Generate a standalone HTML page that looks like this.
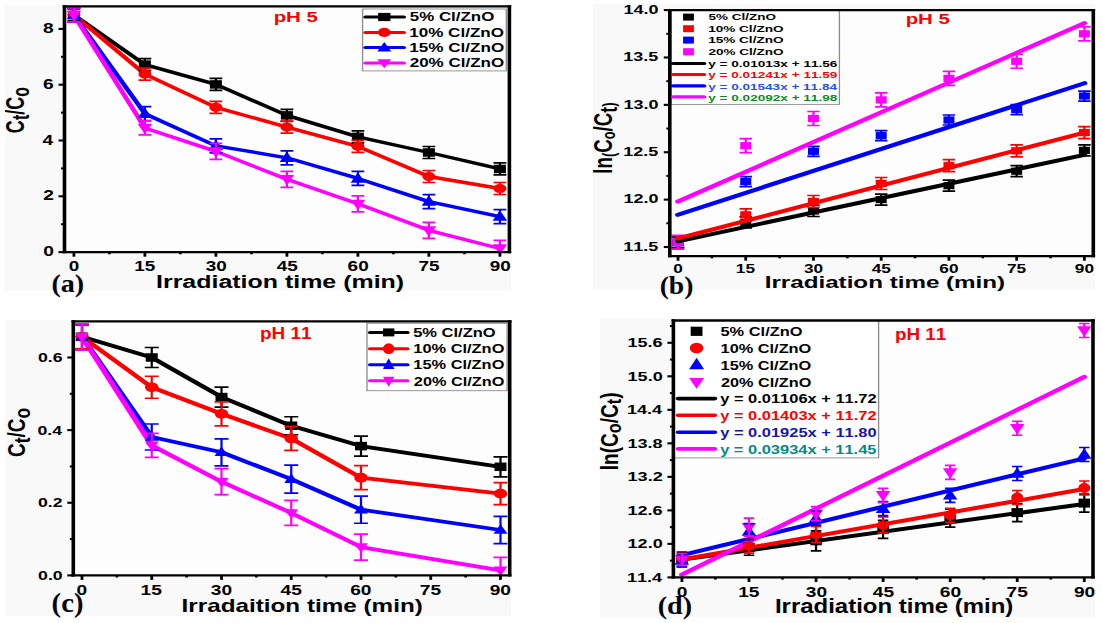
<!DOCTYPE html>
<html><head><meta charset="utf-8"><style>
html,body{margin:0;padding:0;background:#fff;}
svg{display:block;}
text{font-family:"Liberation Sans", sans-serif;font-kerning:none;}
</style></head><body>
<svg width="1102" height="623" viewBox="0 0 1102 623">
<rect x="0" y="0" width="1102" height="623" fill="#ffffff"/>
<rect x="4.5" y="4.8" width="506.5" height="286" fill="#f9f9f9"/>
<rect x="593" y="4" width="502" height="285" fill="#f9f9f9"/>
<rect x="5" y="320" width="506" height="296" fill="#f9f9f9"/>
<rect x="600" y="318" width="495" height="299" fill="#f9f9f9"/>
<rect x="64.5" y="6.4" width="444.9" height="245.7" fill="#fdfdfd"/><rect x="669.8" y="10.1" width="423.5" height="246" fill="#fdfdfd"/><rect x="73.3" y="321.4" width="436.4" height="253.9" fill="#fdfdfd"/><rect x="673.4" y="320.5" width="419.6" height="256.9" fill="#fdfdfd"/>
<g transform="scale(1.45,1)">
<rect x="250.07" y="9" width="99.1" height="61.9" fill="#ffffff" stroke="#8c8c8c" stroke-width="0.9"/>
<clipPath id="c1"><rect x="44.48" y="6.4" width="306.83" height="245.7"/></clipPath><g clip-path="url(#c1)">
<polyline points="50.97,14.95 99.93,64.61 148.9,84.42 197.86,115.39 246.83,136.87 295.79,152.5 344.76,168.96" fill="none" stroke="#000000" stroke-width="3.4" stroke-linejoin="round" stroke-linecap="round"/>
<polyline points="50.97,14.95 99.93,74.1 148.9,107.3 197.86,127.11 246.83,146.36 295.79,176.49 344.76,188.49" fill="none" stroke="#ff0000" stroke-width="3.4" stroke-linejoin="round" stroke-linecap="round"/>
<polyline points="50.97,14.95 99.93,113.72 148.9,145.8 197.86,157.8 246.83,178.44 295.79,201.6 344.76,216.67" fill="none" stroke="#0000ff" stroke-width="3.4" stroke-linejoin="round" stroke-linecap="round"/>
<polyline points="50.97,14.95 99.93,127.94 148.9,151.38 197.86,179.28 246.83,203.83 295.79,230.34 344.76,248.47" fill="none" stroke="#ff00ff" stroke-width="3.4" stroke-linejoin="round" stroke-linecap="round"/>
<line x1="50.97" y1="8.95" x2="50.97" y2="20.95" stroke="#000000" stroke-width="1.52"/>
<line x1="46.55" y1="8.95" x2="55.38" y2="8.95" stroke="#000000" stroke-width="1.7" stroke-linecap="butt"/>
<line x1="46.55" y1="20.95" x2="55.38" y2="20.95" stroke="#000000" stroke-width="1.7" stroke-linecap="butt"/>
<rect x="46.83" y="10.7" width="8.28" height="8.5" fill="#000000"/>
<line x1="99.93" y1="58.61" x2="99.93" y2="70.61" stroke="#000000" stroke-width="1.52"/>
<line x1="95.52" y1="58.61" x2="104.34" y2="58.61" stroke="#000000" stroke-width="1.7" stroke-linecap="butt"/>
<line x1="95.52" y1="70.61" x2="104.34" y2="70.61" stroke="#000000" stroke-width="1.7" stroke-linecap="butt"/>
<rect x="95.79" y="60.36" width="8.28" height="8.5" fill="#000000"/>
<line x1="148.9" y1="78.42" x2="148.9" y2="90.42" stroke="#000000" stroke-width="1.52"/>
<line x1="144.48" y1="78.42" x2="153.31" y2="78.42" stroke="#000000" stroke-width="1.7" stroke-linecap="butt"/>
<line x1="144.48" y1="90.42" x2="153.31" y2="90.42" stroke="#000000" stroke-width="1.7" stroke-linecap="butt"/>
<rect x="144.76" y="80.17" width="8.28" height="8.5" fill="#000000"/>
<line x1="197.86" y1="109.39" x2="197.86" y2="121.39" stroke="#000000" stroke-width="1.52"/>
<line x1="193.45" y1="109.39" x2="202.28" y2="109.39" stroke="#000000" stroke-width="1.7" stroke-linecap="butt"/>
<line x1="193.45" y1="121.39" x2="202.28" y2="121.39" stroke="#000000" stroke-width="1.7" stroke-linecap="butt"/>
<rect x="193.72" y="111.14" width="8.28" height="8.5" fill="#000000"/>
<line x1="246.83" y1="130.87" x2="246.83" y2="142.87" stroke="#000000" stroke-width="1.52"/>
<line x1="242.41" y1="130.87" x2="251.24" y2="130.87" stroke="#000000" stroke-width="1.7" stroke-linecap="butt"/>
<line x1="242.41" y1="142.87" x2="251.24" y2="142.87" stroke="#000000" stroke-width="1.7" stroke-linecap="butt"/>
<rect x="242.69" y="132.62" width="8.28" height="8.5" fill="#000000"/>
<line x1="295.79" y1="146.5" x2="295.79" y2="158.5" stroke="#000000" stroke-width="1.52"/>
<line x1="291.38" y1="146.5" x2="300.21" y2="146.5" stroke="#000000" stroke-width="1.7" stroke-linecap="butt"/>
<line x1="291.38" y1="158.5" x2="300.21" y2="158.5" stroke="#000000" stroke-width="1.7" stroke-linecap="butt"/>
<rect x="291.66" y="148.25" width="8.28" height="8.5" fill="#000000"/>
<line x1="344.76" y1="162.96" x2="344.76" y2="174.96" stroke="#000000" stroke-width="1.52"/>
<line x1="340.34" y1="162.96" x2="349.17" y2="162.96" stroke="#000000" stroke-width="1.7" stroke-linecap="butt"/>
<line x1="340.34" y1="174.96" x2="349.17" y2="174.96" stroke="#000000" stroke-width="1.7" stroke-linecap="butt"/>
<rect x="340.62" y="164.71" width="8.28" height="8.5" fill="#000000"/>
<line x1="50.97" y1="7.95" x2="50.97" y2="21.95" stroke="#ff0000" stroke-width="1.52"/>
<line x1="46.55" y1="7.95" x2="55.38" y2="7.95" stroke="#ff0000" stroke-width="1.7" stroke-linecap="butt"/>
<line x1="46.55" y1="21.95" x2="55.38" y2="21.95" stroke="#ff0000" stroke-width="1.7" stroke-linecap="butt"/>
<ellipse cx="50.97" cy="14.95" rx="4.48" ry="4.6" fill="#ff0000"/>
<line x1="99.93" y1="68.1" x2="99.93" y2="80.1" stroke="#ff0000" stroke-width="1.52"/>
<line x1="95.52" y1="68.1" x2="104.34" y2="68.1" stroke="#ff0000" stroke-width="1.7" stroke-linecap="butt"/>
<line x1="95.52" y1="80.1" x2="104.34" y2="80.1" stroke="#ff0000" stroke-width="1.7" stroke-linecap="butt"/>
<ellipse cx="99.93" cy="74.1" rx="4.48" ry="4.6" fill="#ff0000"/>
<line x1="148.9" y1="101.3" x2="148.9" y2="113.3" stroke="#ff0000" stroke-width="1.52"/>
<line x1="144.48" y1="101.3" x2="153.31" y2="101.3" stroke="#ff0000" stroke-width="1.7" stroke-linecap="butt"/>
<line x1="144.48" y1="113.3" x2="153.31" y2="113.3" stroke="#ff0000" stroke-width="1.7" stroke-linecap="butt"/>
<ellipse cx="148.9" cy="107.3" rx="4.48" ry="4.6" fill="#ff0000"/>
<line x1="197.86" y1="121.11" x2="197.86" y2="133.11" stroke="#ff0000" stroke-width="1.52"/>
<line x1="193.45" y1="121.11" x2="202.28" y2="121.11" stroke="#ff0000" stroke-width="1.7" stroke-linecap="butt"/>
<line x1="193.45" y1="133.11" x2="202.28" y2="133.11" stroke="#ff0000" stroke-width="1.7" stroke-linecap="butt"/>
<ellipse cx="197.86" cy="127.11" rx="4.48" ry="4.6" fill="#ff0000"/>
<line x1="246.83" y1="140.36" x2="246.83" y2="152.36" stroke="#ff0000" stroke-width="1.52"/>
<line x1="242.41" y1="140.36" x2="251.24" y2="140.36" stroke="#ff0000" stroke-width="1.7" stroke-linecap="butt"/>
<line x1="242.41" y1="152.36" x2="251.24" y2="152.36" stroke="#ff0000" stroke-width="1.7" stroke-linecap="butt"/>
<ellipse cx="246.83" cy="146.36" rx="4.48" ry="4.6" fill="#ff0000"/>
<line x1="295.79" y1="170.49" x2="295.79" y2="182.49" stroke="#ff0000" stroke-width="1.52"/>
<line x1="291.38" y1="170.49" x2="300.21" y2="170.49" stroke="#ff0000" stroke-width="1.7" stroke-linecap="butt"/>
<line x1="291.38" y1="182.49" x2="300.21" y2="182.49" stroke="#ff0000" stroke-width="1.7" stroke-linecap="butt"/>
<ellipse cx="295.79" cy="176.49" rx="4.48" ry="4.6" fill="#ff0000"/>
<line x1="344.76" y1="182.49" x2="344.76" y2="194.49" stroke="#ff0000" stroke-width="1.52"/>
<line x1="340.34" y1="182.49" x2="349.17" y2="182.49" stroke="#ff0000" stroke-width="1.7" stroke-linecap="butt"/>
<line x1="340.34" y1="194.49" x2="349.17" y2="194.49" stroke="#ff0000" stroke-width="1.7" stroke-linecap="butt"/>
<ellipse cx="344.76" cy="188.49" rx="4.48" ry="4.6" fill="#ff0000"/>
<line x1="50.97" y1="7.95" x2="50.97" y2="21.95" stroke="#0000ff" stroke-width="1.52"/>
<line x1="46.55" y1="7.95" x2="55.38" y2="7.95" stroke="#0000ff" stroke-width="1.7" stroke-linecap="butt"/>
<line x1="46.55" y1="21.95" x2="55.38" y2="21.95" stroke="#0000ff" stroke-width="1.7" stroke-linecap="butt"/>
<polygon points="50.97,8.65 55.97,19.15 45.97,19.15" fill="#0000ff"/>
<line x1="99.93" y1="106.72" x2="99.93" y2="120.72" stroke="#0000ff" stroke-width="1.52"/>
<line x1="95.52" y1="106.72" x2="104.34" y2="106.72" stroke="#0000ff" stroke-width="1.7" stroke-linecap="butt"/>
<line x1="95.52" y1="120.72" x2="104.34" y2="120.72" stroke="#0000ff" stroke-width="1.7" stroke-linecap="butt"/>
<polygon points="99.93,107.42 104.93,117.92 94.93,117.92" fill="#0000ff"/>
<line x1="148.9" y1="138.8" x2="148.9" y2="152.8" stroke="#0000ff" stroke-width="1.52"/>
<line x1="144.48" y1="138.8" x2="153.31" y2="138.8" stroke="#0000ff" stroke-width="1.7" stroke-linecap="butt"/>
<line x1="144.48" y1="152.8" x2="153.31" y2="152.8" stroke="#0000ff" stroke-width="1.7" stroke-linecap="butt"/>
<polygon points="148.9,139.5 153.9,150 143.9,150" fill="#0000ff"/>
<line x1="197.86" y1="150.8" x2="197.86" y2="164.8" stroke="#0000ff" stroke-width="1.52"/>
<line x1="193.45" y1="150.8" x2="202.28" y2="150.8" stroke="#0000ff" stroke-width="1.7" stroke-linecap="butt"/>
<line x1="193.45" y1="164.8" x2="202.28" y2="164.8" stroke="#0000ff" stroke-width="1.7" stroke-linecap="butt"/>
<polygon points="197.86,151.5 202.86,162 192.86,162" fill="#0000ff"/>
<line x1="246.83" y1="171.44" x2="246.83" y2="185.44" stroke="#0000ff" stroke-width="1.52"/>
<line x1="242.41" y1="171.44" x2="251.24" y2="171.44" stroke="#0000ff" stroke-width="1.7" stroke-linecap="butt"/>
<line x1="242.41" y1="185.44" x2="251.24" y2="185.44" stroke="#0000ff" stroke-width="1.7" stroke-linecap="butt"/>
<polygon points="246.83,172.14 251.83,182.64 241.83,182.64" fill="#0000ff"/>
<line x1="295.79" y1="194.6" x2="295.79" y2="208.6" stroke="#0000ff" stroke-width="1.52"/>
<line x1="291.38" y1="194.6" x2="300.21" y2="194.6" stroke="#0000ff" stroke-width="1.7" stroke-linecap="butt"/>
<line x1="291.38" y1="208.6" x2="300.21" y2="208.6" stroke="#0000ff" stroke-width="1.7" stroke-linecap="butt"/>
<polygon points="295.79,195.3 300.79,205.8 290.79,205.8" fill="#0000ff"/>
<line x1="344.76" y1="209.67" x2="344.76" y2="223.67" stroke="#0000ff" stroke-width="1.52"/>
<line x1="340.34" y1="209.67" x2="349.17" y2="209.67" stroke="#0000ff" stroke-width="1.7" stroke-linecap="butt"/>
<line x1="340.34" y1="223.67" x2="349.17" y2="223.67" stroke="#0000ff" stroke-width="1.7" stroke-linecap="butt"/>
<polygon points="344.76,210.37 349.76,220.87 339.76,220.87" fill="#0000ff"/>
<line x1="50.97" y1="7.95" x2="50.97" y2="21.95" stroke="#ff00ff" stroke-width="1.52"/>
<line x1="46.55" y1="7.95" x2="55.38" y2="7.95" stroke="#ff00ff" stroke-width="1.7" stroke-linecap="butt"/>
<line x1="46.55" y1="21.95" x2="55.38" y2="21.95" stroke="#ff00ff" stroke-width="1.7" stroke-linecap="butt"/>
<polygon points="50.97,21.25 55.97,10.75 45.97,10.75" fill="#ff00ff"/>
<line x1="99.93" y1="120.94" x2="99.93" y2="134.94" stroke="#ff00ff" stroke-width="1.52"/>
<line x1="95.52" y1="120.94" x2="104.34" y2="120.94" stroke="#ff00ff" stroke-width="1.7" stroke-linecap="butt"/>
<line x1="95.52" y1="134.94" x2="104.34" y2="134.94" stroke="#ff00ff" stroke-width="1.7" stroke-linecap="butt"/>
<polygon points="99.93,134.25 104.93,123.74 94.93,123.74" fill="#ff00ff"/>
<line x1="148.9" y1="143.38" x2="148.9" y2="159.38" stroke="#ff00ff" stroke-width="1.52"/>
<line x1="144.48" y1="143.38" x2="153.31" y2="143.38" stroke="#ff00ff" stroke-width="1.7" stroke-linecap="butt"/>
<line x1="144.48" y1="159.38" x2="153.31" y2="159.38" stroke="#ff00ff" stroke-width="1.7" stroke-linecap="butt"/>
<polygon points="148.9,157.68 153.9,147.18 143.9,147.18" fill="#ff00ff"/>
<line x1="197.86" y1="171.28" x2="197.86" y2="187.28" stroke="#ff00ff" stroke-width="1.52"/>
<line x1="193.45" y1="171.28" x2="202.28" y2="171.28" stroke="#ff00ff" stroke-width="1.7" stroke-linecap="butt"/>
<line x1="193.45" y1="187.28" x2="202.28" y2="187.28" stroke="#ff00ff" stroke-width="1.7" stroke-linecap="butt"/>
<polygon points="197.86,185.58 202.86,175.08 192.86,175.08" fill="#ff00ff"/>
<line x1="246.83" y1="195.83" x2="246.83" y2="211.83" stroke="#ff00ff" stroke-width="1.52"/>
<line x1="242.41" y1="195.83" x2="251.24" y2="195.83" stroke="#ff00ff" stroke-width="1.7" stroke-linecap="butt"/>
<line x1="242.41" y1="211.83" x2="251.24" y2="211.83" stroke="#ff00ff" stroke-width="1.7" stroke-linecap="butt"/>
<polygon points="246.83,210.13 251.83,199.63 241.83,199.63" fill="#ff00ff"/>
<line x1="295.79" y1="222.34" x2="295.79" y2="238.34" stroke="#ff00ff" stroke-width="1.52"/>
<line x1="291.38" y1="222.34" x2="300.21" y2="222.34" stroke="#ff00ff" stroke-width="1.7" stroke-linecap="butt"/>
<line x1="291.38" y1="238.34" x2="300.21" y2="238.34" stroke="#ff00ff" stroke-width="1.7" stroke-linecap="butt"/>
<polygon points="295.79,236.64 300.79,226.14 290.79,226.14" fill="#ff00ff"/>
<line x1="344.76" y1="240.47" x2="344.76" y2="256.47" stroke="#ff00ff" stroke-width="1.52"/>
<line x1="340.34" y1="240.47" x2="349.17" y2="240.47" stroke="#ff00ff" stroke-width="1.7" stroke-linecap="butt"/>
<line x1="340.34" y1="256.47" x2="349.17" y2="256.47" stroke="#ff00ff" stroke-width="1.7" stroke-linecap="butt"/>
<polygon points="344.76,254.77 349.76,244.27 339.76,244.27" fill="#ff00ff"/>
</g>
<line x1="43.24" y1="6.4" x2="352.55" y2="6.4" stroke="#000" stroke-width="2.3" stroke-linecap="butt"/>
<line x1="43.24" y1="252.1" x2="352.55" y2="252.1" stroke="#000" stroke-width="2.3" stroke-linecap="butt"/>
<line x1="44.48" y1="5.25" x2="44.48" y2="253.25" stroke="#000" stroke-width="2.48"/>
<line x1="351.31" y1="5.25" x2="351.31" y2="253.25" stroke="#000" stroke-width="2.48"/>
<line x1="40.34" y1="252.1" x2="44.48" y2="252.1" stroke="#000" stroke-width="2.1" stroke-linecap="butt"/>
<line x1="40.34" y1="196.3" x2="44.48" y2="196.3" stroke="#000" stroke-width="2.1" stroke-linecap="butt"/>
<line x1="40.34" y1="140.5" x2="44.48" y2="140.5" stroke="#000" stroke-width="2.1" stroke-linecap="butt"/>
<line x1="40.34" y1="84.7" x2="44.48" y2="84.7" stroke="#000" stroke-width="2.1" stroke-linecap="butt"/>
<line x1="40.34" y1="28.9" x2="44.48" y2="28.9" stroke="#000" stroke-width="2.1" stroke-linecap="butt"/>
<line x1="42.07" y1="224.2" x2="44.48" y2="224.2" stroke="#000" stroke-width="2" stroke-linecap="butt"/>
<line x1="42.07" y1="168.4" x2="44.48" y2="168.4" stroke="#000" stroke-width="2" stroke-linecap="butt"/>
<line x1="42.07" y1="112.6" x2="44.48" y2="112.6" stroke="#000" stroke-width="2" stroke-linecap="butt"/>
<line x1="42.07" y1="56.8" x2="44.48" y2="56.8" stroke="#000" stroke-width="2" stroke-linecap="butt"/>
<line x1="50.97" y1="252.1" x2="50.97" y2="256.7" stroke="#000" stroke-width="1.93"/>
<line x1="99.93" y1="252.1" x2="99.93" y2="256.7" stroke="#000" stroke-width="1.93"/>
<line x1="148.9" y1="252.1" x2="148.9" y2="256.7" stroke="#000" stroke-width="1.93"/>
<line x1="197.86" y1="252.1" x2="197.86" y2="256.7" stroke="#000" stroke-width="1.93"/>
<line x1="246.83" y1="252.1" x2="246.83" y2="256.7" stroke="#000" stroke-width="1.93"/>
<line x1="295.79" y1="252.1" x2="295.79" y2="256.7" stroke="#000" stroke-width="1.93"/>
<line x1="344.76" y1="252.1" x2="344.76" y2="256.7" stroke="#000" stroke-width="1.93"/>
<line x1="75.45" y1="252.1" x2="75.45" y2="254.3" stroke="#000" stroke-width="1.79"/>
<line x1="124.41" y1="252.1" x2="124.41" y2="254.3" stroke="#000" stroke-width="1.79"/>
<line x1="173.38" y1="252.1" x2="173.38" y2="254.3" stroke="#000" stroke-width="1.79"/>
<line x1="222.34" y1="252.1" x2="222.34" y2="254.3" stroke="#000" stroke-width="1.79"/>
<line x1="271.31" y1="252.1" x2="271.31" y2="254.3" stroke="#000" stroke-width="1.79"/>
<line x1="320.28" y1="252.1" x2="320.28" y2="254.3" stroke="#000" stroke-width="1.79"/>
<rect x="462.69" y="10.1" width="116.21" height="94.3" fill="#ffffff" stroke="#8c8c8c" stroke-width="0.9"/>
<clipPath id="c146"><rect x="461.93" y="10.1" width="292.07" height="246"/></clipPath><g clip-path="url(#c146)">
<line x1="467.59" y1="236.76" x2="467.59" y2="247.76" stroke="#000000" stroke-width="1.52"/>
<line x1="463.28" y1="236.76" x2="471.9" y2="236.76" stroke="#000000" stroke-width="1.7" stroke-linecap="butt"/>
<line x1="463.28" y1="247.76" x2="471.9" y2="247.76" stroke="#000000" stroke-width="1.7" stroke-linecap="butt"/>
<rect x="463.79" y="238.66" width="7.59" height="7.2" fill="#000000"/>
<line x1="514.3" y1="216.86" x2="514.3" y2="227.86" stroke="#000000" stroke-width="1.52"/>
<line x1="509.99" y1="216.86" x2="518.61" y2="216.86" stroke="#000000" stroke-width="1.7" stroke-linecap="butt"/>
<line x1="509.99" y1="227.86" x2="518.61" y2="227.86" stroke="#000000" stroke-width="1.7" stroke-linecap="butt"/>
<rect x="510.51" y="218.76" width="7.59" height="7.2" fill="#000000"/>
<line x1="561.01" y1="205.49" x2="561.01" y2="216.49" stroke="#000000" stroke-width="1.52"/>
<line x1="556.7" y1="205.49" x2="565.32" y2="205.49" stroke="#000000" stroke-width="1.7" stroke-linecap="butt"/>
<line x1="556.7" y1="216.49" x2="565.32" y2="216.49" stroke="#000000" stroke-width="1.7" stroke-linecap="butt"/>
<rect x="557.22" y="207.39" width="7.59" height="7.2" fill="#000000"/>
<line x1="607.72" y1="194.12" x2="607.72" y2="205.12" stroke="#000000" stroke-width="1.52"/>
<line x1="603.41" y1="194.12" x2="612.03" y2="194.12" stroke="#000000" stroke-width="1.7" stroke-linecap="butt"/>
<line x1="603.41" y1="205.12" x2="612.03" y2="205.12" stroke="#000000" stroke-width="1.7" stroke-linecap="butt"/>
<rect x="603.93" y="196.02" width="7.59" height="7.2" fill="#000000"/>
<line x1="654.44" y1="180.19" x2="654.44" y2="191.19" stroke="#000000" stroke-width="1.52"/>
<line x1="650.13" y1="180.19" x2="658.75" y2="180.19" stroke="#000000" stroke-width="1.7" stroke-linecap="butt"/>
<line x1="650.13" y1="191.19" x2="658.75" y2="191.19" stroke="#000000" stroke-width="1.7" stroke-linecap="butt"/>
<rect x="650.64" y="182.09" width="7.59" height="7.2" fill="#000000"/>
<line x1="701.15" y1="165.69" x2="701.15" y2="176.69" stroke="#000000" stroke-width="1.52"/>
<line x1="696.84" y1="165.69" x2="705.46" y2="165.69" stroke="#000000" stroke-width="1.7" stroke-linecap="butt"/>
<line x1="696.84" y1="176.69" x2="705.46" y2="176.69" stroke="#000000" stroke-width="1.7" stroke-linecap="butt"/>
<rect x="697.36" y="167.59" width="7.59" height="7.2" fill="#000000"/>
<line x1="747.86" y1="144.84" x2="747.86" y2="155.84" stroke="#000000" stroke-width="1.52"/>
<line x1="743.55" y1="144.84" x2="752.17" y2="144.84" stroke="#000000" stroke-width="1.7" stroke-linecap="butt"/>
<line x1="743.55" y1="155.84" x2="752.17" y2="155.84" stroke="#000000" stroke-width="1.7" stroke-linecap="butt"/>
<rect x="744.07" y="146.74" width="7.59" height="7.2" fill="#000000"/>
<line x1="467.59" y1="236.26" x2="467.59" y2="248.26" stroke="#ff0000" stroke-width="1.52"/>
<line x1="463.28" y1="236.26" x2="471.9" y2="236.26" stroke="#ff0000" stroke-width="1.7" stroke-linecap="butt"/>
<line x1="463.28" y1="248.26" x2="471.9" y2="248.26" stroke="#ff0000" stroke-width="1.7" stroke-linecap="butt"/>
<rect x="463.79" y="238.66" width="7.59" height="7.2" fill="#ff0000"/>
<line x1="514.3" y1="208.78" x2="514.3" y2="220.78" stroke="#ff0000" stroke-width="1.52"/>
<line x1="509.99" y1="208.78" x2="518.61" y2="208.78" stroke="#ff0000" stroke-width="1.7" stroke-linecap="butt"/>
<line x1="509.99" y1="220.78" x2="518.61" y2="220.78" stroke="#ff0000" stroke-width="1.7" stroke-linecap="butt"/>
<rect x="510.51" y="211.18" width="7.59" height="7.2" fill="#ff0000"/>
<line x1="561.01" y1="195.52" x2="561.01" y2="207.52" stroke="#ff0000" stroke-width="1.52"/>
<line x1="556.7" y1="195.52" x2="565.32" y2="195.52" stroke="#ff0000" stroke-width="1.7" stroke-linecap="butt"/>
<line x1="556.7" y1="207.52" x2="565.32" y2="207.52" stroke="#ff0000" stroke-width="1.7" stroke-linecap="butt"/>
<rect x="557.22" y="197.92" width="7.59" height="7.2" fill="#ff0000"/>
<line x1="607.72" y1="177.51" x2="607.72" y2="189.51" stroke="#ff0000" stroke-width="1.52"/>
<line x1="603.41" y1="177.51" x2="612.03" y2="177.51" stroke="#ff0000" stroke-width="1.7" stroke-linecap="butt"/>
<line x1="603.41" y1="189.51" x2="612.03" y2="189.51" stroke="#ff0000" stroke-width="1.7" stroke-linecap="butt"/>
<rect x="603.93" y="179.91" width="7.59" height="7.2" fill="#ff0000"/>
<line x1="654.44" y1="159.7" x2="654.44" y2="171.7" stroke="#ff0000" stroke-width="1.52"/>
<line x1="650.13" y1="159.7" x2="658.75" y2="159.7" stroke="#ff0000" stroke-width="1.7" stroke-linecap="butt"/>
<line x1="650.13" y1="171.7" x2="658.75" y2="171.7" stroke="#ff0000" stroke-width="1.7" stroke-linecap="butt"/>
<rect x="650.64" y="162.1" width="7.59" height="7.2" fill="#ff0000"/>
<line x1="701.15" y1="144.82" x2="701.15" y2="156.82" stroke="#ff0000" stroke-width="1.52"/>
<line x1="696.84" y1="144.82" x2="705.46" y2="144.82" stroke="#ff0000" stroke-width="1.7" stroke-linecap="butt"/>
<line x1="696.84" y1="156.82" x2="705.46" y2="156.82" stroke="#ff0000" stroke-width="1.7" stroke-linecap="butt"/>
<rect x="697.36" y="147.22" width="7.59" height="7.2" fill="#ff0000"/>
<line x1="747.86" y1="126.62" x2="747.86" y2="138.62" stroke="#ff0000" stroke-width="1.52"/>
<line x1="743.55" y1="126.62" x2="752.17" y2="126.62" stroke="#ff0000" stroke-width="1.7" stroke-linecap="butt"/>
<line x1="743.55" y1="138.62" x2="752.17" y2="138.62" stroke="#ff0000" stroke-width="1.7" stroke-linecap="butt"/>
<rect x="744.07" y="129.02" width="7.59" height="7.2" fill="#ff0000"/>
<line x1="467.59" y1="237.26" x2="467.59" y2="247.26" stroke="#0000ff" stroke-width="1.52"/>
<line x1="463.28" y1="237.26" x2="471.9" y2="237.26" stroke="#0000ff" stroke-width="1.7" stroke-linecap="butt"/>
<line x1="463.28" y1="247.26" x2="471.9" y2="247.26" stroke="#0000ff" stroke-width="1.7" stroke-linecap="butt"/>
<rect x="463.79" y="238.66" width="7.59" height="7.2" fill="#0000ff"/>
<line x1="514.3" y1="176.62" x2="514.3" y2="186.62" stroke="#0000ff" stroke-width="1.52"/>
<line x1="509.99" y1="176.62" x2="518.61" y2="176.62" stroke="#0000ff" stroke-width="1.7" stroke-linecap="butt"/>
<line x1="509.99" y1="186.62" x2="518.61" y2="186.62" stroke="#0000ff" stroke-width="1.7" stroke-linecap="butt"/>
<rect x="510.51" y="178.02" width="7.59" height="7.2" fill="#0000ff"/>
<line x1="561.01" y1="146.29" x2="561.01" y2="156.29" stroke="#0000ff" stroke-width="1.52"/>
<line x1="556.7" y1="146.29" x2="565.32" y2="146.29" stroke="#0000ff" stroke-width="1.7" stroke-linecap="butt"/>
<line x1="556.7" y1="156.29" x2="565.32" y2="156.29" stroke="#0000ff" stroke-width="1.7" stroke-linecap="butt"/>
<rect x="557.22" y="147.69" width="7.59" height="7.2" fill="#0000ff"/>
<line x1="607.72" y1="130.66" x2="607.72" y2="140.66" stroke="#0000ff" stroke-width="1.52"/>
<line x1="603.41" y1="130.66" x2="612.03" y2="130.66" stroke="#0000ff" stroke-width="1.7" stroke-linecap="butt"/>
<line x1="603.41" y1="140.66" x2="612.03" y2="140.66" stroke="#0000ff" stroke-width="1.7" stroke-linecap="butt"/>
<rect x="603.93" y="132.06" width="7.59" height="7.2" fill="#0000ff"/>
<line x1="654.44" y1="115.02" x2="654.44" y2="125.02" stroke="#0000ff" stroke-width="1.52"/>
<line x1="650.13" y1="115.02" x2="658.75" y2="115.02" stroke="#0000ff" stroke-width="1.7" stroke-linecap="butt"/>
<line x1="650.13" y1="125.02" x2="658.75" y2="125.02" stroke="#0000ff" stroke-width="1.7" stroke-linecap="butt"/>
<rect x="650.64" y="116.42" width="7.59" height="7.2" fill="#0000ff"/>
<line x1="701.15" y1="104.6" x2="701.15" y2="114.6" stroke="#0000ff" stroke-width="1.52"/>
<line x1="696.84" y1="104.6" x2="705.46" y2="104.6" stroke="#0000ff" stroke-width="1.7" stroke-linecap="butt"/>
<line x1="696.84" y1="114.6" x2="705.46" y2="114.6" stroke="#0000ff" stroke-width="1.7" stroke-linecap="butt"/>
<rect x="697.36" y="106" width="7.59" height="7.2" fill="#0000ff"/>
<line x1="747.86" y1="91.05" x2="747.86" y2="101.05" stroke="#0000ff" stroke-width="1.52"/>
<line x1="743.55" y1="91.05" x2="752.17" y2="91.05" stroke="#0000ff" stroke-width="1.7" stroke-linecap="butt"/>
<line x1="743.55" y1="101.05" x2="752.17" y2="101.05" stroke="#0000ff" stroke-width="1.7" stroke-linecap="butt"/>
<rect x="744.07" y="92.45" width="7.59" height="7.2" fill="#0000ff"/>
<line x1="467.59" y1="235.26" x2="467.59" y2="249.26" stroke="#ff00ff" stroke-width="1.52"/>
<line x1="463.28" y1="235.26" x2="471.9" y2="235.26" stroke="#ff00ff" stroke-width="1.7" stroke-linecap="butt"/>
<line x1="463.28" y1="249.26" x2="471.9" y2="249.26" stroke="#ff00ff" stroke-width="1.7" stroke-linecap="butt"/>
<rect x="463.79" y="238.66" width="7.59" height="7.2" fill="#ff00ff"/>
<line x1="514.3" y1="138.7" x2="514.3" y2="152.7" stroke="#ff00ff" stroke-width="1.52"/>
<line x1="509.99" y1="138.7" x2="518.61" y2="138.7" stroke="#ff00ff" stroke-width="1.7" stroke-linecap="butt"/>
<line x1="509.99" y1="152.7" x2="518.61" y2="152.7" stroke="#ff00ff" stroke-width="1.7" stroke-linecap="butt"/>
<rect x="510.51" y="142.1" width="7.59" height="7.2" fill="#ff00ff"/>
<line x1="561.01" y1="111.51" x2="561.01" y2="125.51" stroke="#ff00ff" stroke-width="1.52"/>
<line x1="556.7" y1="111.51" x2="565.32" y2="111.51" stroke="#ff00ff" stroke-width="1.7" stroke-linecap="butt"/>
<line x1="556.7" y1="125.51" x2="565.32" y2="125.51" stroke="#ff00ff" stroke-width="1.7" stroke-linecap="butt"/>
<rect x="557.22" y="114.91" width="7.59" height="7.2" fill="#ff00ff"/>
<line x1="607.72" y1="92.84" x2="607.72" y2="106.84" stroke="#ff00ff" stroke-width="1.52"/>
<line x1="603.41" y1="92.84" x2="612.03" y2="92.84" stroke="#ff00ff" stroke-width="1.7" stroke-linecap="butt"/>
<line x1="603.41" y1="106.84" x2="612.03" y2="106.84" stroke="#ff00ff" stroke-width="1.7" stroke-linecap="butt"/>
<rect x="603.93" y="96.24" width="7.59" height="7.2" fill="#ff00ff"/>
<line x1="654.44" y1="71.33" x2="654.44" y2="85.33" stroke="#ff00ff" stroke-width="1.52"/>
<line x1="650.13" y1="71.33" x2="658.75" y2="71.33" stroke="#ff00ff" stroke-width="1.7" stroke-linecap="butt"/>
<line x1="650.13" y1="85.33" x2="658.75" y2="85.33" stroke="#ff00ff" stroke-width="1.7" stroke-linecap="butt"/>
<rect x="650.64" y="74.73" width="7.59" height="7.2" fill="#ff00ff"/>
<line x1="701.15" y1="54.27" x2="701.15" y2="68.27" stroke="#ff00ff" stroke-width="1.52"/>
<line x1="696.84" y1="54.27" x2="705.46" y2="54.27" stroke="#ff00ff" stroke-width="1.7" stroke-linecap="butt"/>
<line x1="696.84" y1="68.27" x2="705.46" y2="68.27" stroke="#ff00ff" stroke-width="1.7" stroke-linecap="butt"/>
<rect x="697.36" y="57.67" width="7.59" height="7.2" fill="#ff00ff"/>
<line x1="747.86" y1="26.79" x2="747.86" y2="40.79" stroke="#ff00ff" stroke-width="1.52"/>
<line x1="743.55" y1="26.79" x2="752.17" y2="26.79" stroke="#ff00ff" stroke-width="1.7" stroke-linecap="butt"/>
<line x1="743.55" y1="40.79" x2="752.17" y2="40.79" stroke="#ff00ff" stroke-width="1.7" stroke-linecap="butt"/>
<rect x="744.07" y="30.19" width="7.59" height="7.2" fill="#ff00ff"/>
<polyline points="467.59,241.31 747.86,154.92" fill="none" stroke="#000000" stroke-width="4" stroke-linejoin="round" stroke-linecap="round"/>
<polyline points="467.59,238.47 747.86,132.63" fill="none" stroke="#ff0000" stroke-width="4" stroke-linejoin="round" stroke-linecap="round"/>
<polyline points="467.59,214.78 747.86,83.19" fill="none" stroke="#0000ff" stroke-width="4" stroke-linejoin="round" stroke-linecap="round"/>
<polyline points="467.59,201.52 747.86,23.1" fill="none" stroke="#ff00ff" stroke-width="4" stroke-linejoin="round" stroke-linecap="round"/>
</g>
<line x1="460.69" y1="10.1" x2="755.24" y2="10.1" stroke="#000" stroke-width="2.3" stroke-linecap="butt"/>
<line x1="460.69" y1="256.1" x2="755.24" y2="256.1" stroke="#000" stroke-width="2.3" stroke-linecap="butt"/>
<line x1="461.93" y1="8.95" x2="461.93" y2="257.25" stroke="#000" stroke-width="2.48"/>
<line x1="754" y1="8.95" x2="754" y2="257.25" stroke="#000" stroke-width="2.48"/>
<line x1="457.79" y1="247" x2="461.93" y2="247" stroke="#000" stroke-width="2.1" stroke-linecap="butt"/>
<line x1="457.79" y1="199.62" x2="461.93" y2="199.62" stroke="#000" stroke-width="2.1" stroke-linecap="butt"/>
<line x1="457.79" y1="152.24" x2="461.93" y2="152.24" stroke="#000" stroke-width="2.1" stroke-linecap="butt"/>
<line x1="457.79" y1="104.86" x2="461.93" y2="104.86" stroke="#000" stroke-width="2.1" stroke-linecap="butt"/>
<line x1="457.79" y1="57.48" x2="461.93" y2="57.48" stroke="#000" stroke-width="2.1" stroke-linecap="butt"/>
<line x1="457.79" y1="10.1" x2="461.93" y2="10.1" stroke="#000" stroke-width="2.1" stroke-linecap="butt"/>
<line x1="459.52" y1="223.31" x2="461.93" y2="223.31" stroke="#000" stroke-width="2" stroke-linecap="butt"/>
<line x1="459.52" y1="175.93" x2="461.93" y2="175.93" stroke="#000" stroke-width="2" stroke-linecap="butt"/>
<line x1="459.52" y1="128.55" x2="461.93" y2="128.55" stroke="#000" stroke-width="2" stroke-linecap="butt"/>
<line x1="459.52" y1="81.17" x2="461.93" y2="81.17" stroke="#000" stroke-width="2" stroke-linecap="butt"/>
<line x1="459.52" y1="33.79" x2="461.93" y2="33.79" stroke="#000" stroke-width="2" stroke-linecap="butt"/>
<line x1="467.59" y1="256.1" x2="467.59" y2="260.7" stroke="#000" stroke-width="1.93"/>
<line x1="514.3" y1="256.1" x2="514.3" y2="260.7" stroke="#000" stroke-width="1.93"/>
<line x1="561.01" y1="256.1" x2="561.01" y2="260.7" stroke="#000" stroke-width="1.93"/>
<line x1="607.72" y1="256.1" x2="607.72" y2="260.7" stroke="#000" stroke-width="1.93"/>
<line x1="654.44" y1="256.1" x2="654.44" y2="260.7" stroke="#000" stroke-width="1.93"/>
<line x1="701.15" y1="256.1" x2="701.15" y2="260.7" stroke="#000" stroke-width="1.93"/>
<line x1="747.86" y1="256.1" x2="747.86" y2="260.7" stroke="#000" stroke-width="1.93"/>
<line x1="490.94" y1="256.1" x2="490.94" y2="258.3" stroke="#000" stroke-width="1.79"/>
<line x1="537.66" y1="256.1" x2="537.66" y2="258.3" stroke="#000" stroke-width="1.79"/>
<line x1="584.37" y1="256.1" x2="584.37" y2="258.3" stroke="#000" stroke-width="1.79"/>
<line x1="631.08" y1="256.1" x2="631.08" y2="258.3" stroke="#000" stroke-width="1.79"/>
<line x1="677.79" y1="256.1" x2="677.79" y2="258.3" stroke="#000" stroke-width="1.79"/>
<line x1="724.51" y1="256.1" x2="724.51" y2="258.3" stroke="#000" stroke-width="1.79"/>
<rect x="253.1" y="323.3" width="96.62" height="67.4" fill="#ffffff" stroke="#8c8c8c" stroke-width="0.9"/>
<clipPath id="c293"><rect x="50.55" y="321.4" width="300.97" height="253.9"/></clipPath><g clip-path="url(#c293)">
<polyline points="56.55,336.78 104.66,357.48 152.76,397.07 200.86,425.76 248.97,446.1 345.17,466.8" fill="none" stroke="#000000" stroke-width="3.8" stroke-linejoin="round" stroke-linecap="round"/>
<polyline points="56.55,336.78 104.66,387.26 152.76,413.78 200.86,438.47 248.97,477.7 345.17,493.68" fill="none" stroke="#ff0000" stroke-width="3.8" stroke-linejoin="round" stroke-linecap="round"/>
<polyline points="56.55,336.78 104.66,437.02 152.76,452.28 200.86,479.15 248.97,509.66 345.17,530" fill="none" stroke="#0000ff" stroke-width="3.8" stroke-linejoin="round" stroke-linecap="round"/>
<polyline points="56.55,336.78 104.66,445.37 152.76,481.69 200.86,512.93 248.97,547.07 345.17,570.32" fill="none" stroke="#ff00ff" stroke-width="3.8" stroke-linejoin="round" stroke-linecap="round"/>
<line x1="56.55" y1="324.78" x2="56.55" y2="348.78" stroke="#000000" stroke-width="1.52"/>
<line x1="51.72" y1="324.78" x2="61.38" y2="324.78" stroke="#000000" stroke-width="1.7" stroke-linecap="butt"/>
<line x1="51.72" y1="348.78" x2="61.38" y2="348.78" stroke="#000000" stroke-width="1.7" stroke-linecap="butt"/>
<rect x="52.41" y="332.53" width="8.28" height="8.5" fill="#000000"/>
<line x1="104.66" y1="347.48" x2="104.66" y2="367.48" stroke="#000000" stroke-width="1.52"/>
<line x1="99.83" y1="347.48" x2="109.48" y2="347.48" stroke="#000000" stroke-width="1.7" stroke-linecap="butt"/>
<line x1="99.83" y1="367.48" x2="109.48" y2="367.48" stroke="#000000" stroke-width="1.7" stroke-linecap="butt"/>
<rect x="100.52" y="353.23" width="8.28" height="8.5" fill="#000000"/>
<line x1="152.76" y1="387.07" x2="152.76" y2="407.07" stroke="#000000" stroke-width="1.52"/>
<line x1="147.93" y1="387.07" x2="157.59" y2="387.07" stroke="#000000" stroke-width="1.7" stroke-linecap="butt"/>
<line x1="147.93" y1="407.07" x2="157.59" y2="407.07" stroke="#000000" stroke-width="1.7" stroke-linecap="butt"/>
<rect x="148.62" y="392.82" width="8.28" height="8.5" fill="#000000"/>
<line x1="200.86" y1="416.76" x2="200.86" y2="434.76" stroke="#000000" stroke-width="1.52"/>
<line x1="196.03" y1="416.76" x2="205.69" y2="416.76" stroke="#000000" stroke-width="1.7" stroke-linecap="butt"/>
<line x1="196.03" y1="434.76" x2="205.69" y2="434.76" stroke="#000000" stroke-width="1.7" stroke-linecap="butt"/>
<rect x="196.72" y="421.51" width="8.28" height="8.5" fill="#000000"/>
<line x1="248.97" y1="436.1" x2="248.97" y2="456.1" stroke="#000000" stroke-width="1.52"/>
<line x1="244.14" y1="436.1" x2="253.79" y2="436.1" stroke="#000000" stroke-width="1.7" stroke-linecap="butt"/>
<line x1="244.14" y1="456.1" x2="253.79" y2="456.1" stroke="#000000" stroke-width="1.7" stroke-linecap="butt"/>
<rect x="244.83" y="441.85" width="8.28" height="8.5" fill="#000000"/>
<line x1="345.17" y1="456.8" x2="345.17" y2="476.8" stroke="#000000" stroke-width="1.52"/>
<line x1="340.34" y1="456.8" x2="350" y2="456.8" stroke="#000000" stroke-width="1.7" stroke-linecap="butt"/>
<line x1="340.34" y1="476.8" x2="350" y2="476.8" stroke="#000000" stroke-width="1.7" stroke-linecap="butt"/>
<rect x="341.03" y="462.55" width="8.28" height="8.5" fill="#000000"/>
<line x1="56.55" y1="324.78" x2="56.55" y2="348.78" stroke="#ff0000" stroke-width="1.52"/>
<line x1="51.72" y1="324.78" x2="61.38" y2="324.78" stroke="#ff0000" stroke-width="1.7" stroke-linecap="butt"/>
<line x1="51.72" y1="348.78" x2="61.38" y2="348.78" stroke="#ff0000" stroke-width="1.7" stroke-linecap="butt"/>
<ellipse cx="56.55" cy="336.78" rx="4.66" ry="4.85" fill="#ff0000"/>
<line x1="104.66" y1="376.26" x2="104.66" y2="398.26" stroke="#ff0000" stroke-width="1.52"/>
<line x1="99.83" y1="376.26" x2="109.48" y2="376.26" stroke="#ff0000" stroke-width="1.7" stroke-linecap="butt"/>
<line x1="99.83" y1="398.26" x2="109.48" y2="398.26" stroke="#ff0000" stroke-width="1.7" stroke-linecap="butt"/>
<ellipse cx="104.66" cy="387.26" rx="4.66" ry="4.85" fill="#ff0000"/>
<line x1="152.76" y1="401.78" x2="152.76" y2="425.78" stroke="#ff0000" stroke-width="1.52"/>
<line x1="147.93" y1="401.78" x2="157.59" y2="401.78" stroke="#ff0000" stroke-width="1.7" stroke-linecap="butt"/>
<line x1="147.93" y1="425.78" x2="157.59" y2="425.78" stroke="#ff0000" stroke-width="1.7" stroke-linecap="butt"/>
<ellipse cx="152.76" cy="413.78" rx="4.66" ry="4.85" fill="#ff0000"/>
<line x1="200.86" y1="426.47" x2="200.86" y2="450.47" stroke="#ff0000" stroke-width="1.52"/>
<line x1="196.03" y1="426.47" x2="205.69" y2="426.47" stroke="#ff0000" stroke-width="1.7" stroke-linecap="butt"/>
<line x1="196.03" y1="450.47" x2="205.69" y2="450.47" stroke="#ff0000" stroke-width="1.7" stroke-linecap="butt"/>
<ellipse cx="200.86" cy="438.47" rx="4.66" ry="4.85" fill="#ff0000"/>
<line x1="248.97" y1="465.7" x2="248.97" y2="489.7" stroke="#ff0000" stroke-width="1.52"/>
<line x1="244.14" y1="465.7" x2="253.79" y2="465.7" stroke="#ff0000" stroke-width="1.7" stroke-linecap="butt"/>
<line x1="244.14" y1="489.7" x2="253.79" y2="489.7" stroke="#ff0000" stroke-width="1.7" stroke-linecap="butt"/>
<ellipse cx="248.97" cy="477.7" rx="4.66" ry="4.85" fill="#ff0000"/>
<line x1="345.17" y1="482.68" x2="345.17" y2="504.68" stroke="#ff0000" stroke-width="1.52"/>
<line x1="340.34" y1="482.68" x2="350" y2="482.68" stroke="#ff0000" stroke-width="1.7" stroke-linecap="butt"/>
<line x1="340.34" y1="504.68" x2="350" y2="504.68" stroke="#ff0000" stroke-width="1.7" stroke-linecap="butt"/>
<ellipse cx="345.17" cy="493.68" rx="4.66" ry="4.85" fill="#ff0000"/>
<line x1="56.55" y1="323.78" x2="56.55" y2="349.78" stroke="#0000ff" stroke-width="1.52"/>
<line x1="51.72" y1="323.78" x2="61.38" y2="323.78" stroke="#0000ff" stroke-width="1.7" stroke-linecap="butt"/>
<line x1="51.72" y1="349.78" x2="61.38" y2="349.78" stroke="#0000ff" stroke-width="1.7" stroke-linecap="butt"/>
<polygon points="56.55,331.08 61.38,340.58 51.72,340.58" fill="#0000ff"/>
<line x1="104.66" y1="424.02" x2="104.66" y2="450.02" stroke="#0000ff" stroke-width="1.52"/>
<line x1="99.83" y1="424.02" x2="109.48" y2="424.02" stroke="#0000ff" stroke-width="1.7" stroke-linecap="butt"/>
<line x1="99.83" y1="450.02" x2="109.48" y2="450.02" stroke="#0000ff" stroke-width="1.7" stroke-linecap="butt"/>
<polygon points="104.66,431.32 109.48,440.82 99.83,440.82" fill="#0000ff"/>
<line x1="152.76" y1="438.78" x2="152.76" y2="465.78" stroke="#0000ff" stroke-width="1.52"/>
<line x1="147.93" y1="438.78" x2="157.59" y2="438.78" stroke="#0000ff" stroke-width="1.7" stroke-linecap="butt"/>
<line x1="147.93" y1="465.78" x2="157.59" y2="465.78" stroke="#0000ff" stroke-width="1.7" stroke-linecap="butt"/>
<polygon points="152.76,446.58 157.59,456.08 147.93,456.08" fill="#0000ff"/>
<line x1="200.86" y1="465.15" x2="200.86" y2="493.15" stroke="#0000ff" stroke-width="1.52"/>
<line x1="196.03" y1="465.15" x2="205.69" y2="465.15" stroke="#0000ff" stroke-width="1.7" stroke-linecap="butt"/>
<line x1="196.03" y1="493.15" x2="205.69" y2="493.15" stroke="#0000ff" stroke-width="1.7" stroke-linecap="butt"/>
<polygon points="200.86,473.45 205.69,482.95 196.03,482.95" fill="#0000ff"/>
<line x1="248.97" y1="496.06" x2="248.97" y2="523.26" stroke="#0000ff" stroke-width="1.52"/>
<line x1="244.14" y1="496.06" x2="253.79" y2="496.06" stroke="#0000ff" stroke-width="1.7" stroke-linecap="butt"/>
<line x1="244.14" y1="523.26" x2="253.79" y2="523.26" stroke="#0000ff" stroke-width="1.7" stroke-linecap="butt"/>
<polygon points="248.97,503.96 253.79,513.46 244.14,513.46" fill="#0000ff"/>
<line x1="345.17" y1="516.4" x2="345.17" y2="543.6" stroke="#0000ff" stroke-width="1.52"/>
<line x1="340.34" y1="516.4" x2="350" y2="516.4" stroke="#0000ff" stroke-width="1.7" stroke-linecap="butt"/>
<line x1="340.34" y1="543.6" x2="350" y2="543.6" stroke="#0000ff" stroke-width="1.7" stroke-linecap="butt"/>
<polygon points="345.17,524.3 350,533.8 340.34,533.8" fill="#0000ff"/>
<line x1="56.55" y1="323.78" x2="56.55" y2="349.78" stroke="#ff00ff" stroke-width="1.52"/>
<line x1="51.72" y1="323.78" x2="61.38" y2="323.78" stroke="#ff00ff" stroke-width="1.7" stroke-linecap="butt"/>
<line x1="51.72" y1="349.78" x2="61.38" y2="349.78" stroke="#ff00ff" stroke-width="1.7" stroke-linecap="butt"/>
<polygon points="56.55,342.48 61.38,332.98 51.72,332.98" fill="#ff00ff"/>
<line x1="104.66" y1="433.37" x2="104.66" y2="457.37" stroke="#ff00ff" stroke-width="1.52"/>
<line x1="99.83" y1="433.37" x2="109.48" y2="433.37" stroke="#ff00ff" stroke-width="1.7" stroke-linecap="butt"/>
<line x1="99.83" y1="457.37" x2="109.48" y2="457.37" stroke="#ff00ff" stroke-width="1.7" stroke-linecap="butt"/>
<polygon points="104.66,451.07 109.48,441.57 99.83,441.57" fill="#ff00ff"/>
<line x1="152.76" y1="468.69" x2="152.76" y2="494.69" stroke="#ff00ff" stroke-width="1.52"/>
<line x1="147.93" y1="468.69" x2="157.59" y2="468.69" stroke="#ff00ff" stroke-width="1.7" stroke-linecap="butt"/>
<line x1="147.93" y1="494.69" x2="157.59" y2="494.69" stroke="#ff00ff" stroke-width="1.7" stroke-linecap="butt"/>
<polygon points="152.76,487.39 157.59,477.89 147.93,477.89" fill="#ff00ff"/>
<line x1="200.86" y1="500.43" x2="200.86" y2="525.43" stroke="#ff00ff" stroke-width="1.52"/>
<line x1="196.03" y1="500.43" x2="205.69" y2="500.43" stroke="#ff00ff" stroke-width="1.7" stroke-linecap="butt"/>
<line x1="196.03" y1="525.43" x2="205.69" y2="525.43" stroke="#ff00ff" stroke-width="1.7" stroke-linecap="butt"/>
<polygon points="200.86,518.63 205.69,509.13 196.03,509.13" fill="#ff00ff"/>
<line x1="248.97" y1="534.07" x2="248.97" y2="560.07" stroke="#ff00ff" stroke-width="1.52"/>
<line x1="244.14" y1="534.07" x2="253.79" y2="534.07" stroke="#ff00ff" stroke-width="1.7" stroke-linecap="butt"/>
<line x1="244.14" y1="560.07" x2="253.79" y2="560.07" stroke="#ff00ff" stroke-width="1.7" stroke-linecap="butt"/>
<polygon points="248.97,552.77 253.79,543.27 244.14,543.27" fill="#ff00ff"/>
<line x1="345.17" y1="557.32" x2="345.17" y2="583.32" stroke="#ff00ff" stroke-width="1.52"/>
<line x1="340.34" y1="557.32" x2="350" y2="557.32" stroke="#ff00ff" stroke-width="1.7" stroke-linecap="butt"/>
<line x1="340.34" y1="583.32" x2="350" y2="583.32" stroke="#ff00ff" stroke-width="1.7" stroke-linecap="butt"/>
<polygon points="345.17,576.02 350,566.52 340.34,566.52" fill="#ff00ff"/>
</g>
<line x1="49.31" y1="321.4" x2="352.76" y2="321.4" stroke="#000" stroke-width="2.3" stroke-linecap="butt"/>
<line x1="49.31" y1="575.3" x2="352.76" y2="575.3" stroke="#000" stroke-width="2.3" stroke-linecap="butt"/>
<line x1="50.55" y1="320.25" x2="50.55" y2="576.45" stroke="#000" stroke-width="2.48"/>
<line x1="351.52" y1="320.25" x2="351.52" y2="576.45" stroke="#000" stroke-width="2.48"/>
<line x1="46.41" y1="575.4" x2="50.55" y2="575.4" stroke="#000" stroke-width="2.1" stroke-linecap="butt"/>
<line x1="46.41" y1="502.76" x2="50.55" y2="502.76" stroke="#000" stroke-width="2.1" stroke-linecap="butt"/>
<line x1="46.41" y1="430.12" x2="50.55" y2="430.12" stroke="#000" stroke-width="2.1" stroke-linecap="butt"/>
<line x1="46.41" y1="357.48" x2="50.55" y2="357.48" stroke="#000" stroke-width="2.1" stroke-linecap="butt"/>
<line x1="48.14" y1="539.08" x2="50.55" y2="539.08" stroke="#000" stroke-width="2" stroke-linecap="butt"/>
<line x1="48.14" y1="466.44" x2="50.55" y2="466.44" stroke="#000" stroke-width="2" stroke-linecap="butt"/>
<line x1="48.14" y1="393.8" x2="50.55" y2="393.8" stroke="#000" stroke-width="2" stroke-linecap="butt"/>
<line x1="56.55" y1="575.3" x2="56.55" y2="579.9" stroke="#000" stroke-width="1.93"/>
<line x1="104.66" y1="575.3" x2="104.66" y2="579.9" stroke="#000" stroke-width="1.93"/>
<line x1="152.76" y1="575.3" x2="152.76" y2="579.9" stroke="#000" stroke-width="1.93"/>
<line x1="200.86" y1="575.3" x2="200.86" y2="579.9" stroke="#000" stroke-width="1.93"/>
<line x1="248.97" y1="575.3" x2="248.97" y2="579.9" stroke="#000" stroke-width="1.93"/>
<line x1="297.07" y1="575.3" x2="297.07" y2="579.9" stroke="#000" stroke-width="1.93"/>
<line x1="345.17" y1="575.3" x2="345.17" y2="579.9" stroke="#000" stroke-width="1.93"/>
<line x1="80.6" y1="575.3" x2="80.6" y2="577.5" stroke="#000" stroke-width="1.79"/>
<line x1="128.71" y1="575.3" x2="128.71" y2="577.5" stroke="#000" stroke-width="1.79"/>
<line x1="176.81" y1="575.3" x2="176.81" y2="577.5" stroke="#000" stroke-width="1.79"/>
<line x1="224.91" y1="575.3" x2="224.91" y2="577.5" stroke="#000" stroke-width="1.79"/>
<line x1="273.02" y1="575.3" x2="273.02" y2="577.5" stroke="#000" stroke-width="1.79"/>
<line x1="321.12" y1="575.3" x2="321.12" y2="577.5" stroke="#000" stroke-width="1.79"/>
<rect x="464.83" y="320.5" width="141.1" height="137.4" fill="#ffffff" stroke="#8c8c8c" stroke-width="0.9"/>
<clipPath id="c420"><rect x="464.41" y="320.5" width="289.38" height="256.9"/></clipPath><g clip-path="url(#c420)">
<polyline points="470.28,559.52 747.79,503.92" fill="none" stroke="#000000" stroke-width="4" stroke-linejoin="round" stroke-linecap="round"/>
<polyline points="470.28,559.52 747.79,488.99" fill="none" stroke="#ff0000" stroke-width="4" stroke-linejoin="round" stroke-linecap="round"/>
<polyline points="470.28,555.06 747.79,458.28" fill="none" stroke="#0000ff" stroke-width="4" stroke-linejoin="round" stroke-linecap="round"/>
<polyline points="470.28,574.61 747.79,376.83" fill="none" stroke="#ff00ff" stroke-width="4" stroke-linejoin="round" stroke-linecap="round"/>
<rect x="466.31" y="555.02" width="7.93" height="9" fill="#000000"/>
<rect x="512.56" y="542.74" width="7.93" height="9" fill="#000000"/>
<rect x="558.82" y="536.31" width="7.93" height="9" fill="#000000"/>
<rect x="605.07" y="524.86" width="7.93" height="9" fill="#000000"/>
<rect x="651.32" y="513.69" width="7.93" height="9" fill="#000000"/>
<rect x="697.57" y="508.1" width="7.93" height="9" fill="#000000"/>
<rect x="743.83" y="498.61" width="7.93" height="9" fill="#000000"/>
<ellipse cx="470.28" cy="559.52" rx="4.14" ry="4.9" fill="#ff0000"/>
<ellipse cx="516.53" cy="546.12" rx="4.14" ry="4.9" fill="#ff0000"/>
<ellipse cx="562.78" cy="534.39" rx="4.14" ry="4.9" fill="#ff0000"/>
<ellipse cx="609.03" cy="524.89" rx="4.14" ry="4.9" fill="#ff0000"/>
<ellipse cx="655.29" cy="515.4" rx="4.14" ry="4.9" fill="#ff0000"/>
<ellipse cx="701.54" cy="497.52" rx="4.14" ry="4.9" fill="#ff0000"/>
<ellipse cx="747.79" cy="488.02" rx="4.14" ry="4.9" fill="#ff0000"/>
<polygon points="470.28,554.34 475.28,564.84 465.28,564.84" fill="#0000ff"/>
<polygon points="516.53,525.29 521.53,535.79 511.53,535.79" fill="#0000ff"/>
<polygon points="562.78,511.89 567.78,522.39 557.78,522.39" fill="#0000ff"/>
<polygon points="609.03,502.39 614.03,512.89 604.03,512.89" fill="#0000ff"/>
<polygon points="655.29,488.99 660.29,499.49 650.29,499.49" fill="#0000ff"/>
<polygon points="701.54,467.2 706.54,477.7 696.54,477.7" fill="#0000ff"/>
<polygon points="747.79,448.21 752.79,458.71 742.79,458.71" fill="#0000ff"/>
<polygon points="470.28,565.82 475.28,555.32 465.28,555.32" fill="#ff00ff"/>
<polygon points="516.53,533.43 521.53,522.93 511.53,522.93" fill="#ff00ff"/>
<polygon points="562.78,520.02 567.78,509.52 557.78,509.52" fill="#ff00ff"/>
<polygon points="609.03,501.59 614.03,491.09 604.03,491.09" fill="#ff00ff"/>
<polygon points="655.29,478.68 660.29,468.18 650.29,468.18" fill="#ff00ff"/>
<polygon points="701.54,434.55 706.54,424.05 696.54,424.05" fill="#ff00ff"/>
<polygon points="747.79,336.8 752.79,326.3 742.79,326.3" fill="#ff00ff"/>
<line x1="470.28" y1="552.22" x2="470.28" y2="566.82" stroke="#000000" stroke-width="1.52"/>
<line x1="466.66" y1="552.22" x2="473.9" y2="552.22" stroke="#000000" stroke-width="1.7" stroke-linecap="butt"/>
<line x1="466.66" y1="566.82" x2="473.9" y2="566.82" stroke="#000000" stroke-width="1.7" stroke-linecap="butt"/>
<line x1="516.53" y1="539.24" x2="516.53" y2="555.24" stroke="#000000" stroke-width="1.52"/>
<line x1="512.91" y1="539.24" x2="520.15" y2="539.24" stroke="#000000" stroke-width="1.7" stroke-linecap="butt"/>
<line x1="512.91" y1="555.24" x2="520.15" y2="555.24" stroke="#000000" stroke-width="1.7" stroke-linecap="butt"/>
<line x1="562.78" y1="530.81" x2="562.78" y2="550.81" stroke="#000000" stroke-width="1.52"/>
<line x1="559.16" y1="530.81" x2="566.4" y2="530.81" stroke="#000000" stroke-width="1.7" stroke-linecap="butt"/>
<line x1="559.16" y1="550.81" x2="566.4" y2="550.81" stroke="#000000" stroke-width="1.7" stroke-linecap="butt"/>
<line x1="609.03" y1="520.36" x2="609.03" y2="538.36" stroke="#000000" stroke-width="1.52"/>
<line x1="605.41" y1="520.36" x2="612.66" y2="520.36" stroke="#000000" stroke-width="1.7" stroke-linecap="butt"/>
<line x1="605.41" y1="538.36" x2="612.66" y2="538.36" stroke="#000000" stroke-width="1.7" stroke-linecap="butt"/>
<line x1="655.29" y1="509.19" x2="655.29" y2="527.19" stroke="#000000" stroke-width="1.52"/>
<line x1="651.67" y1="509.19" x2="658.91" y2="509.19" stroke="#000000" stroke-width="1.7" stroke-linecap="butt"/>
<line x1="651.67" y1="527.19" x2="658.91" y2="527.19" stroke="#000000" stroke-width="1.7" stroke-linecap="butt"/>
<line x1="701.54" y1="503.6" x2="701.54" y2="521.6" stroke="#000000" stroke-width="1.52"/>
<line x1="697.92" y1="503.6" x2="705.16" y2="503.6" stroke="#000000" stroke-width="1.7" stroke-linecap="butt"/>
<line x1="697.92" y1="521.6" x2="705.16" y2="521.6" stroke="#000000" stroke-width="1.7" stroke-linecap="butt"/>
<line x1="747.79" y1="494.11" x2="747.79" y2="512.11" stroke="#000000" stroke-width="1.52"/>
<line x1="744.17" y1="494.11" x2="751.41" y2="494.11" stroke="#000000" stroke-width="1.7" stroke-linecap="butt"/>
<line x1="744.17" y1="512.11" x2="751.41" y2="512.11" stroke="#000000" stroke-width="1.7" stroke-linecap="butt"/>
<line x1="470.28" y1="553.52" x2="470.28" y2="565.52" stroke="#ff0000" stroke-width="1.52"/>
<line x1="466.66" y1="553.52" x2="473.9" y2="553.52" stroke="#ff0000" stroke-width="1.7" stroke-linecap="butt"/>
<line x1="466.66" y1="565.52" x2="473.9" y2="565.52" stroke="#ff0000" stroke-width="1.7" stroke-linecap="butt"/>
<line x1="516.53" y1="539.12" x2="516.53" y2="553.12" stroke="#ff0000" stroke-width="1.52"/>
<line x1="512.91" y1="539.12" x2="520.15" y2="539.12" stroke="#ff0000" stroke-width="1.7" stroke-linecap="butt"/>
<line x1="512.91" y1="553.12" x2="520.15" y2="553.12" stroke="#ff0000" stroke-width="1.7" stroke-linecap="butt"/>
<line x1="562.78" y1="526.39" x2="562.78" y2="542.39" stroke="#ff0000" stroke-width="1.52"/>
<line x1="559.16" y1="526.39" x2="566.4" y2="526.39" stroke="#ff0000" stroke-width="1.7" stroke-linecap="butt"/>
<line x1="559.16" y1="542.39" x2="566.4" y2="542.39" stroke="#ff0000" stroke-width="1.7" stroke-linecap="butt"/>
<line x1="609.03" y1="516.89" x2="609.03" y2="532.89" stroke="#ff0000" stroke-width="1.52"/>
<line x1="605.41" y1="516.89" x2="612.66" y2="516.89" stroke="#ff0000" stroke-width="1.7" stroke-linecap="butt"/>
<line x1="605.41" y1="532.89" x2="612.66" y2="532.89" stroke="#ff0000" stroke-width="1.7" stroke-linecap="butt"/>
<line x1="655.29" y1="508.4" x2="655.29" y2="522.4" stroke="#ff0000" stroke-width="1.52"/>
<line x1="651.67" y1="508.4" x2="658.91" y2="508.4" stroke="#ff0000" stroke-width="1.7" stroke-linecap="butt"/>
<line x1="651.67" y1="522.4" x2="658.91" y2="522.4" stroke="#ff0000" stroke-width="1.7" stroke-linecap="butt"/>
<line x1="701.54" y1="490.52" x2="701.54" y2="504.52" stroke="#ff0000" stroke-width="1.52"/>
<line x1="697.92" y1="490.52" x2="705.16" y2="490.52" stroke="#ff0000" stroke-width="1.7" stroke-linecap="butt"/>
<line x1="697.92" y1="504.52" x2="705.16" y2="504.52" stroke="#ff0000" stroke-width="1.7" stroke-linecap="butt"/>
<line x1="747.79" y1="481.02" x2="747.79" y2="495.02" stroke="#ff0000" stroke-width="1.52"/>
<line x1="744.17" y1="481.02" x2="751.41" y2="481.02" stroke="#ff0000" stroke-width="1.7" stroke-linecap="butt"/>
<line x1="744.17" y1="495.02" x2="751.41" y2="495.02" stroke="#ff0000" stroke-width="1.7" stroke-linecap="butt"/>
<line x1="470.28" y1="554.64" x2="470.28" y2="566.64" stroke="#0000ff" stroke-width="1.52"/>
<line x1="466.66" y1="554.64" x2="473.9" y2="554.64" stroke="#0000ff" stroke-width="1.7" stroke-linecap="butt"/>
<line x1="466.66" y1="566.64" x2="473.9" y2="566.64" stroke="#0000ff" stroke-width="1.7" stroke-linecap="butt"/>
<line x1="516.53" y1="523.59" x2="516.53" y2="539.59" stroke="#0000ff" stroke-width="1.52"/>
<line x1="512.91" y1="523.59" x2="520.15" y2="523.59" stroke="#0000ff" stroke-width="1.7" stroke-linecap="butt"/>
<line x1="512.91" y1="539.59" x2="520.15" y2="539.59" stroke="#0000ff" stroke-width="1.7" stroke-linecap="butt"/>
<line x1="562.78" y1="511.19" x2="562.78" y2="525.19" stroke="#0000ff" stroke-width="1.52"/>
<line x1="559.16" y1="511.19" x2="566.4" y2="511.19" stroke="#0000ff" stroke-width="1.7" stroke-linecap="butt"/>
<line x1="559.16" y1="525.19" x2="566.4" y2="525.19" stroke="#0000ff" stroke-width="1.7" stroke-linecap="butt"/>
<line x1="609.03" y1="501.69" x2="609.03" y2="515.69" stroke="#0000ff" stroke-width="1.52"/>
<line x1="605.41" y1="501.69" x2="612.66" y2="501.69" stroke="#0000ff" stroke-width="1.7" stroke-linecap="butt"/>
<line x1="605.41" y1="515.69" x2="612.66" y2="515.69" stroke="#0000ff" stroke-width="1.7" stroke-linecap="butt"/>
<line x1="655.29" y1="488.29" x2="655.29" y2="502.29" stroke="#0000ff" stroke-width="1.52"/>
<line x1="651.67" y1="488.29" x2="658.91" y2="488.29" stroke="#0000ff" stroke-width="1.7" stroke-linecap="butt"/>
<line x1="651.67" y1="502.29" x2="658.91" y2="502.29" stroke="#0000ff" stroke-width="1.7" stroke-linecap="butt"/>
<line x1="701.54" y1="466.5" x2="701.54" y2="480.5" stroke="#0000ff" stroke-width="1.52"/>
<line x1="697.92" y1="466.5" x2="705.16" y2="466.5" stroke="#0000ff" stroke-width="1.7" stroke-linecap="butt"/>
<line x1="697.92" y1="480.5" x2="705.16" y2="480.5" stroke="#0000ff" stroke-width="1.7" stroke-linecap="butt"/>
<line x1="747.79" y1="447.51" x2="747.79" y2="461.51" stroke="#0000ff" stroke-width="1.52"/>
<line x1="744.17" y1="447.51" x2="751.41" y2="447.51" stroke="#0000ff" stroke-width="1.7" stroke-linecap="butt"/>
<line x1="744.17" y1="461.51" x2="751.41" y2="461.51" stroke="#0000ff" stroke-width="1.7" stroke-linecap="butt"/>
<line x1="470.28" y1="553.52" x2="470.28" y2="565.52" stroke="#ff00ff" stroke-width="1.52"/>
<line x1="466.66" y1="553.52" x2="473.9" y2="553.52" stroke="#ff00ff" stroke-width="1.7" stroke-linecap="butt"/>
<line x1="466.66" y1="565.52" x2="473.9" y2="565.52" stroke="#ff00ff" stroke-width="1.7" stroke-linecap="butt"/>
<line x1="516.53" y1="518.13" x2="516.53" y2="536.13" stroke="#ff00ff" stroke-width="1.52"/>
<line x1="512.91" y1="518.13" x2="520.15" y2="518.13" stroke="#ff00ff" stroke-width="1.7" stroke-linecap="butt"/>
<line x1="512.91" y1="536.13" x2="520.15" y2="536.13" stroke="#ff00ff" stroke-width="1.7" stroke-linecap="butt"/>
<line x1="562.78" y1="506.72" x2="562.78" y2="520.72" stroke="#ff00ff" stroke-width="1.52"/>
<line x1="559.16" y1="506.72" x2="566.4" y2="506.72" stroke="#ff00ff" stroke-width="1.7" stroke-linecap="butt"/>
<line x1="559.16" y1="520.72" x2="566.4" y2="520.72" stroke="#ff00ff" stroke-width="1.7" stroke-linecap="butt"/>
<line x1="609.03" y1="488.29" x2="609.03" y2="502.29" stroke="#ff00ff" stroke-width="1.52"/>
<line x1="605.41" y1="488.29" x2="612.66" y2="488.29" stroke="#ff00ff" stroke-width="1.7" stroke-linecap="butt"/>
<line x1="605.41" y1="502.29" x2="612.66" y2="502.29" stroke="#ff00ff" stroke-width="1.7" stroke-linecap="butt"/>
<line x1="655.29" y1="465.38" x2="655.29" y2="479.38" stroke="#ff00ff" stroke-width="1.52"/>
<line x1="651.67" y1="465.38" x2="658.91" y2="465.38" stroke="#ff00ff" stroke-width="1.7" stroke-linecap="butt"/>
<line x1="651.67" y1="479.38" x2="658.91" y2="479.38" stroke="#ff00ff" stroke-width="1.7" stroke-linecap="butt"/>
<line x1="701.54" y1="421.25" x2="701.54" y2="435.25" stroke="#ff00ff" stroke-width="1.52"/>
<line x1="697.92" y1="421.25" x2="705.16" y2="421.25" stroke="#ff00ff" stroke-width="1.7" stroke-linecap="butt"/>
<line x1="697.92" y1="435.25" x2="705.16" y2="435.25" stroke="#ff00ff" stroke-width="1.7" stroke-linecap="butt"/>
<line x1="747.79" y1="323.5" x2="747.79" y2="337.5" stroke="#ff00ff" stroke-width="1.52"/>
<line x1="744.17" y1="323.5" x2="751.41" y2="323.5" stroke="#ff00ff" stroke-width="1.7" stroke-linecap="butt"/>
<line x1="744.17" y1="337.5" x2="751.41" y2="337.5" stroke="#ff00ff" stroke-width="1.7" stroke-linecap="butt"/>
</g>
<line x1="463.17" y1="320.5" x2="755.03" y2="320.5" stroke="#000" stroke-width="2.3" stroke-linecap="butt"/>
<line x1="463.17" y1="577.4" x2="755.03" y2="577.4" stroke="#000" stroke-width="2.3" stroke-linecap="butt"/>
<line x1="464.41" y1="319.35" x2="464.41" y2="578.55" stroke="#000" stroke-width="2.48"/>
<line x1="753.79" y1="319.35" x2="753.79" y2="578.55" stroke="#000" stroke-width="2.48"/>
<line x1="460.28" y1="577.4" x2="464.41" y2="577.4" stroke="#000" stroke-width="2.1" stroke-linecap="butt"/>
<line x1="460.28" y1="543.88" x2="464.41" y2="543.88" stroke="#000" stroke-width="2.1" stroke-linecap="butt"/>
<line x1="460.28" y1="510.37" x2="464.41" y2="510.37" stroke="#000" stroke-width="2.1" stroke-linecap="butt"/>
<line x1="460.28" y1="476.85" x2="464.41" y2="476.85" stroke="#000" stroke-width="2.1" stroke-linecap="butt"/>
<line x1="460.28" y1="443.34" x2="464.41" y2="443.34" stroke="#000" stroke-width="2.1" stroke-linecap="butt"/>
<line x1="460.28" y1="409.82" x2="464.41" y2="409.82" stroke="#000" stroke-width="2.1" stroke-linecap="butt"/>
<line x1="460.28" y1="376.3" x2="464.41" y2="376.3" stroke="#000" stroke-width="2.1" stroke-linecap="butt"/>
<line x1="460.28" y1="342.79" x2="464.41" y2="342.79" stroke="#000" stroke-width="2.1" stroke-linecap="butt"/>
<line x1="462" y1="560.64" x2="464.41" y2="560.64" stroke="#000" stroke-width="2" stroke-linecap="butt"/>
<line x1="462" y1="527.13" x2="464.41" y2="527.13" stroke="#000" stroke-width="2" stroke-linecap="butt"/>
<line x1="462" y1="493.61" x2="464.41" y2="493.61" stroke="#000" stroke-width="2" stroke-linecap="butt"/>
<line x1="462" y1="460.09" x2="464.41" y2="460.09" stroke="#000" stroke-width="2" stroke-linecap="butt"/>
<line x1="462" y1="426.58" x2="464.41" y2="426.58" stroke="#000" stroke-width="2" stroke-linecap="butt"/>
<line x1="462" y1="393.06" x2="464.41" y2="393.06" stroke="#000" stroke-width="2" stroke-linecap="butt"/>
<line x1="462" y1="359.55" x2="464.41" y2="359.55" stroke="#000" stroke-width="2" stroke-linecap="butt"/>
<line x1="462" y1="326.03" x2="464.41" y2="326.03" stroke="#000" stroke-width="2" stroke-linecap="butt"/>
<line x1="470.28" y1="577.4" x2="470.28" y2="582" stroke="#000" stroke-width="1.93"/>
<line x1="516.53" y1="577.4" x2="516.53" y2="582" stroke="#000" stroke-width="1.93"/>
<line x1="562.78" y1="577.4" x2="562.78" y2="582" stroke="#000" stroke-width="1.93"/>
<line x1="609.03" y1="577.4" x2="609.03" y2="582" stroke="#000" stroke-width="1.93"/>
<line x1="655.29" y1="577.4" x2="655.29" y2="582" stroke="#000" stroke-width="1.93"/>
<line x1="701.54" y1="577.4" x2="701.54" y2="582" stroke="#000" stroke-width="1.93"/>
<line x1="747.79" y1="577.4" x2="747.79" y2="582" stroke="#000" stroke-width="1.93"/>
<line x1="493.4" y1="577.4" x2="493.4" y2="579.6" stroke="#000" stroke-width="1.79"/>
<line x1="539.66" y1="577.4" x2="539.66" y2="579.6" stroke="#000" stroke-width="1.79"/>
<line x1="585.91" y1="577.4" x2="585.91" y2="579.6" stroke="#000" stroke-width="1.79"/>
<line x1="632.16" y1="577.4" x2="632.16" y2="579.6" stroke="#000" stroke-width="1.79"/>
<line x1="678.41" y1="577.4" x2="678.41" y2="579.6" stroke="#000" stroke-width="1.79"/>
<line x1="724.67" y1="577.4" x2="724.67" y2="579.6" stroke="#000" stroke-width="1.79"/>
<line x1="252" y1="17" x2="278.55" y2="17" stroke="#000000" stroke-width="3" stroke-linecap="round"/>
<rect x="260.79" y="12.9" width="8.48" height="8.2" fill="#000000"/>
<line x1="252" y1="32.4" x2="278.55" y2="32.4" stroke="#ff0000" stroke-width="3" stroke-linecap="round"/>
<ellipse cx="265.03" cy="32.4" rx="4.48" ry="4.55" fill="#ff0000"/>
<line x1="252" y1="47.6" x2="278.55" y2="47.6" stroke="#0000ff" stroke-width="3" stroke-linecap="round"/>
<polygon points="265.03,41.9 269.86,51.4 260.21,51.4" fill="#0000ff"/>
<line x1="252" y1="62.9" x2="278.55" y2="62.9" stroke="#ff00ff" stroke-width="3" stroke-linecap="round"/>
<polygon points="265.03,68.3 269.86,59.3 260.21,59.3" fill="#ff00ff"/>
<rect x="471.1" y="13.6" width="7.45" height="7" fill="#000000"/>
<rect x="471.1" y="25.2" width="7.45" height="7" fill="#ff0000"/>
<rect x="471.1" y="36.6" width="7.45" height="7" fill="#0000ff"/>
<rect x="471.1" y="48.2" width="7.45" height="7" fill="#ff00ff"/>
<line x1="464.21" y1="63.5" x2="485.59" y2="63.5" stroke="#000000" stroke-width="3.2" stroke-linecap="round"/>
<line x1="464.21" y1="74.5" x2="485.59" y2="74.5" stroke="#ff0000" stroke-width="3.2" stroke-linecap="round"/>
<line x1="464.21" y1="85.9" x2="485.59" y2="85.9" stroke="#0000ff" stroke-width="3.2" stroke-linecap="round"/>
<line x1="464.21" y1="96.9" x2="485.59" y2="96.9" stroke="#ff00ff" stroke-width="3.2" stroke-linecap="round"/>
<line x1="255.24" y1="332.4" x2="281.03" y2="332.4" stroke="#000000" stroke-width="3" stroke-linecap="round"/>
<rect x="264.17" y="328.4" width="7.79" height="8" fill="#000000"/>
<line x1="255.24" y1="348.7" x2="281.03" y2="348.7" stroke="#ff0000" stroke-width="3" stroke-linecap="round"/>
<ellipse cx="268.07" cy="348.7" rx="4" ry="5.35" fill="#ff0000"/>
<line x1="255.24" y1="364.7" x2="281.03" y2="364.7" stroke="#0000ff" stroke-width="3" stroke-linecap="round"/>
<polygon points="268.07,358.28 272.07,368.98 264.07,368.98" fill="#0000ff"/>
<line x1="255.24" y1="380.7" x2="281.03" y2="380.7" stroke="#ff00ff" stroke-width="3" stroke-linecap="round"/>
<polygon points="268.07,386.7 272.07,376.7 264.07,376.7" fill="#ff00ff"/>
<rect x="476.34" y="326.7" width="8.14" height="9.2" fill="#000000"/>
<ellipse cx="480.41" cy="348" rx="4.69" ry="5.35" fill="#ff0000"/>
<polygon points="480.41,357.64 485.59,369.24 475.24,369.24" fill="#0000ff"/>
<polygon points="480.41,388.72 485.59,378.02 475.24,378.02" fill="#ff00ff"/>
<line x1="467.72" y1="398.6" x2="492.9" y2="398.6" stroke="#000000" stroke-width="3.6" stroke-linecap="round"/>
<line x1="467.72" y1="415.3" x2="492.9" y2="415.3" stroke="#ff0000" stroke-width="3.6" stroke-linecap="round"/>
<line x1="467.72" y1="432.3" x2="492.9" y2="432.3" stroke="#0000ff" stroke-width="3.6" stroke-linecap="round"/>
<line x1="467.72" y1="448.9" x2="492.9" y2="448.9" stroke="#ff00ff" stroke-width="3.6" stroke-linecap="round"/>
</g>
<text x="43.22" y="256.26" font-size="14" fill="#000" font-weight="bold" textLength="10.67" lengthAdjust="spacingAndGlyphs">0</text>
<text x="43.2" y="200.46" font-size="14" fill="#000" font-weight="bold" textLength="10.67" lengthAdjust="spacingAndGlyphs">2</text>
<text x="42.54" y="144.66" font-size="14" fill="#000" font-weight="bold" textLength="10.67" lengthAdjust="spacingAndGlyphs">4</text>
<text x="43.13" y="88.86" font-size="14" fill="#000" font-weight="bold" textLength="10.67" lengthAdjust="spacingAndGlyphs">6</text>
<text x="43.02" y="33.06" font-size="14" fill="#000" font-weight="bold" textLength="10.67" lengthAdjust="spacingAndGlyphs">8</text>
<text x="68.86" y="270.6" font-size="13.8" fill="#000" font-weight="bold" textLength="10.51" lengthAdjust="spacingAndGlyphs">0</text>
<text x="134.25" y="270.6" font-size="13.8" fill="#000" font-weight="bold" textLength="21.03" lengthAdjust="spacingAndGlyphs">15</text>
<text x="205.76" y="270.6" font-size="13.8" fill="#000" font-weight="bold" textLength="21.03" lengthAdjust="spacingAndGlyphs">30</text>
<text x="276.71" y="270.6" font-size="13.8" fill="#000" font-weight="bold" textLength="21.03" lengthAdjust="spacingAndGlyphs">45</text>
<text x="347.63" y="270.6" font-size="13.8" fill="#000" font-weight="bold" textLength="21.03" lengthAdjust="spacingAndGlyphs">60</text>
<text x="418.44" y="270.6" font-size="13.8" fill="#000" font-weight="bold" textLength="21.03" lengthAdjust="spacingAndGlyphs">75</text>
<text x="489.65" y="270.6" font-size="13.8" fill="#000" font-weight="bold" textLength="21.03" lengthAdjust="spacingAndGlyphs">90</text>
<text x="623.23" y="250.81" font-size="12.6" fill="#000" font-weight="bold" textLength="35.07" lengthAdjust="spacingAndGlyphs">11.5</text>
<text x="623.47" y="203.43" font-size="12.6" fill="#000" font-weight="bold" textLength="35.07" lengthAdjust="spacingAndGlyphs">12.0</text>
<text x="623.23" y="156.05" font-size="12.6" fill="#000" font-weight="bold" textLength="35.07" lengthAdjust="spacingAndGlyphs">12.5</text>
<text x="623.47" y="108.67" font-size="12.6" fill="#000" font-weight="bold" textLength="35.07" lengthAdjust="spacingAndGlyphs">13.0</text>
<text x="623.23" y="61.29" font-size="12.6" fill="#000" font-weight="bold" textLength="35.07" lengthAdjust="spacingAndGlyphs">13.5</text>
<text x="623.47" y="13.91" font-size="12.6" fill="#000" font-weight="bold" textLength="35.07" lengthAdjust="spacingAndGlyphs">14.0</text>
<text x="673.21" y="273.1" font-size="11.9" fill="#000" font-weight="bold" textLength="9.6" lengthAdjust="spacingAndGlyphs">0</text>
<text x="735.83" y="273.1" font-size="11.9" fill="#000" font-weight="bold" textLength="19.19" lengthAdjust="spacingAndGlyphs">15</text>
<text x="804.03" y="273.1" font-size="11.9" fill="#000" font-weight="bold" textLength="19.19" lengthAdjust="spacingAndGlyphs">30</text>
<text x="871.71" y="273.1" font-size="11.9" fill="#000" font-weight="bold" textLength="19.19" lengthAdjust="spacingAndGlyphs">45</text>
<text x="939.37" y="273.1" font-size="11.9" fill="#000" font-weight="bold" textLength="19.19" lengthAdjust="spacingAndGlyphs">60</text>
<text x="1006.94" y="273.1" font-size="11.9" fill="#000" font-weight="bold" textLength="19.19" lengthAdjust="spacingAndGlyphs">75</text>
<text x="1074.86" y="273.1" font-size="11.9" fill="#000" font-weight="bold" textLength="19.19" lengthAdjust="spacingAndGlyphs">90</text>
<text x="38.05" y="579.8" font-size="13" fill="#000" font-weight="bold" textLength="24.58" lengthAdjust="spacingAndGlyphs">0.0</text>
<text x="38.03" y="507.16" font-size="13" fill="#000" font-weight="bold" textLength="24.58" lengthAdjust="spacingAndGlyphs">0.2</text>
<text x="37.42" y="434.52" font-size="13" fill="#000" font-weight="bold" textLength="24.58" lengthAdjust="spacingAndGlyphs">0.4</text>
<text x="37.96" y="361.88" font-size="13" fill="#000" font-weight="bold" textLength="24.58" lengthAdjust="spacingAndGlyphs">0.6</text>
<text x="76.49" y="594.6" font-size="14.4" fill="#000" font-weight="bold" textLength="10.65" lengthAdjust="spacingAndGlyphs">0</text>
<text x="140.56" y="594.6" font-size="14.4" fill="#000" font-weight="bold" textLength="21.3" lengthAdjust="spacingAndGlyphs">15</text>
<text x="210.82" y="594.6" font-size="14.4" fill="#000" font-weight="bold" textLength="21.3" lengthAdjust="spacingAndGlyphs">30</text>
<text x="280.52" y="594.6" font-size="14.4" fill="#000" font-weight="bold" textLength="21.3" lengthAdjust="spacingAndGlyphs">45</text>
<text x="350.19" y="594.6" font-size="14.4" fill="#000" font-weight="bold" textLength="21.3" lengthAdjust="spacingAndGlyphs">60</text>
<text x="419.75" y="594.6" font-size="14.4" fill="#000" font-weight="bold" textLength="21.3" lengthAdjust="spacingAndGlyphs">75</text>
<text x="489.71" y="594.6" font-size="14.4" fill="#000" font-weight="bold" textLength="21.3" lengthAdjust="spacingAndGlyphs">90</text>
<text x="626.95" y="581.97" font-size="12.9" fill="#000" font-weight="bold" textLength="35.15" lengthAdjust="spacingAndGlyphs">11.4</text>
<text x="627.59" y="548.45" font-size="12.9" fill="#000" font-weight="bold" textLength="35.15" lengthAdjust="spacingAndGlyphs">12.0</text>
<text x="627.5" y="514.93" font-size="12.9" fill="#000" font-weight="bold" textLength="35.15" lengthAdjust="spacingAndGlyphs">12.6</text>
<text x="627.57" y="481.42" font-size="12.9" fill="#000" font-weight="bold" textLength="35.15" lengthAdjust="spacingAndGlyphs">13.2</text>
<text x="627.41" y="447.9" font-size="12.9" fill="#000" font-weight="bold" textLength="35.15" lengthAdjust="spacingAndGlyphs">13.8</text>
<text x="626.95" y="414.39" font-size="12.9" fill="#000" font-weight="bold" textLength="35.15" lengthAdjust="spacingAndGlyphs">14.4</text>
<text x="627.59" y="380.87" font-size="12.9" fill="#000" font-weight="bold" textLength="35.15" lengthAdjust="spacingAndGlyphs">15.0</text>
<text x="627.5" y="347.35" font-size="12.9" fill="#000" font-weight="bold" textLength="35.15" lengthAdjust="spacingAndGlyphs">15.6</text>
<text x="676.79" y="597.3" font-size="14.4" fill="#000" font-weight="bold" textLength="10.65" lengthAdjust="spacingAndGlyphs">0</text>
<text x="738.18" y="597.3" font-size="14.4" fill="#000" font-weight="bold" textLength="21.3" lengthAdjust="spacingAndGlyphs">15</text>
<text x="805.75" y="597.3" font-size="14.4" fill="#000" font-weight="bold" textLength="21.3" lengthAdjust="spacingAndGlyphs">30</text>
<text x="872.77" y="597.3" font-size="14.4" fill="#000" font-weight="bold" textLength="21.3" lengthAdjust="spacingAndGlyphs">45</text>
<text x="939.76" y="597.3" font-size="14.4" fill="#000" font-weight="bold" textLength="21.3" lengthAdjust="spacingAndGlyphs">60</text>
<text x="1006.64" y="597.3" font-size="14.4" fill="#000" font-weight="bold" textLength="21.3" lengthAdjust="spacingAndGlyphs">75</text>
<text x="1073.91" y="597.3" font-size="14.4" fill="#000" font-weight="bold" textLength="21.3" lengthAdjust="spacingAndGlyphs">90</text>
<text x="409.78" y="21.2" font-size="12.3" fill="#000" font-weight="bold" textLength="84.53" lengthAdjust="spacingAndGlyphs">5% Cl/ZnO</text>
<text x="409.23" y="36.6" font-size="12.3" fill="#000" font-weight="bold" textLength="94.79" lengthAdjust="spacingAndGlyphs">10% Cl/ZnO</text>
<text x="409.22" y="51.8" font-size="12.3" fill="#000" font-weight="bold" textLength="94.99" lengthAdjust="spacingAndGlyphs">15% Cl/ZnO</text>
<text x="409.71" y="67.1" font-size="12.3" fill="#000" font-weight="bold" textLength="94.5" lengthAdjust="spacingAndGlyphs">20% Cl/ZnO</text>
<text x="273.66" y="22" font-size="15.2" fill="#ff0000" font-weight="bold" textLength="44.11" lengthAdjust="spacingAndGlyphs">pH 5</text>
<text x="156.03" y="287.6" font-size="18" fill="#000" font-weight="bold" textLength="248.11" lengthAdjust="spacingAndGlyphs">Irradiation time (min)</text>
<text x="708.59" y="20.4" font-size="9.6" fill="#000" font-weight="bold" textLength="67.38" lengthAdjust="spacingAndGlyphs">5% Cl/ZnO</text>
<text x="708.15" y="32" font-size="9.6" fill="#000" font-weight="bold" textLength="75.42" lengthAdjust="spacingAndGlyphs">10% Cl/ZnO</text>
<text x="708.15" y="43.4" font-size="9.6" fill="#000" font-weight="bold" textLength="75.42" lengthAdjust="spacingAndGlyphs">15% Cl/ZnO</text>
<text x="708.53" y="55" font-size="9.6" fill="#000" font-weight="bold" textLength="75.04" lengthAdjust="spacingAndGlyphs">20% Cl/ZnO</text>
<text x="708.29" y="66.7" font-size="9.8" fill="#000000" font-weight="bold" textLength="129.1" lengthAdjust="spacingAndGlyphs">y = 0.01013x + 11.56</text>
<text x="708.29" y="78" font-size="9.8" fill="#ff0000" font-weight="bold" textLength="129.11" lengthAdjust="spacingAndGlyphs">y = 0.01241x + 11.59</text>
<text x="708.29" y="89.6" font-size="9.8" fill="#1f4fff" font-weight="bold" textLength="128.68" lengthAdjust="spacingAndGlyphs">y = 0.01543x + 11.84</text>
<text x="708.29" y="100.8" font-size="9.8" fill="#0b8a24" font-weight="bold" textLength="129.02" lengthAdjust="spacingAndGlyphs">y = 0.02092x + 11.98</text>
<text x="905.66" y="24.3" font-size="13.8" fill="#ff0000" font-weight="bold" textLength="44.21" lengthAdjust="spacingAndGlyphs">pH 5</text>
<text x="764.68" y="287.7" font-size="16.3" fill="#000" font-weight="bold" textLength="240.52" lengthAdjust="spacingAndGlyphs">Irradiation time (min)</text>
<text x="413.19" y="337.3" font-size="12.6" fill="#000" font-weight="bold" textLength="82.5" lengthAdjust="spacingAndGlyphs">5% Cl/ZnO</text>
<text x="413.37" y="353.3" font-size="12.6" fill="#000" font-weight="bold" textLength="91.02" lengthAdjust="spacingAndGlyphs">10% Cl/ZnO</text>
<text x="413.37" y="369.4" font-size="12.6" fill="#000" font-weight="bold" textLength="91.02" lengthAdjust="spacingAndGlyphs">15% Cl/ZnO</text>
<text x="413.84" y="385.6" font-size="12.6" fill="#000" font-weight="bold" textLength="90.55" lengthAdjust="spacingAndGlyphs">20% Cl/ZnO</text>
<text x="259.95" y="338.8" font-size="16.3" fill="#ff0000" font-weight="bold" textLength="51.58" lengthAdjust="spacingAndGlyphs">pH 11</text>
<text x="181.58" y="612.2" font-size="19" fill="#000" font-weight="bold" textLength="241.23" lengthAdjust="spacingAndGlyphs">Irradaition time (min)</text>
<text x="720.5" y="336.2" font-size="13.7" fill="#000" font-weight="bold" textLength="81.99" lengthAdjust="spacingAndGlyphs">5% Cl/ZnO</text>
<text x="720.57" y="352.9" font-size="13.7" fill="#000" font-weight="bold" textLength="90.71" lengthAdjust="spacingAndGlyphs">10% Cl/ZnO</text>
<text x="720.57" y="369.8" font-size="13.7" fill="#000" font-weight="bold" textLength="90.71" lengthAdjust="spacingAndGlyphs">15% Cl/ZnO</text>
<text x="721.04" y="386.9" font-size="13.7" fill="#000" font-weight="bold" textLength="90.25" lengthAdjust="spacingAndGlyphs">20% Cl/ZnO</text>
<text x="720.17" y="403.2" font-size="12.7" fill="#000000" font-weight="bold" textLength="156.49" lengthAdjust="spacingAndGlyphs">y = 0.01106x + 11.72</text>
<text x="720.17" y="419.9" font-size="12.7" fill="#ff0000" font-weight="bold" textLength="156.49" lengthAdjust="spacingAndGlyphs">y = 0.01403x + 11.72</text>
<text x="720.17" y="436.9" font-size="12.7" fill="#1414b4" font-weight="bold" textLength="156.5" lengthAdjust="spacingAndGlyphs">y = 0.01925x + 11.80</text>
<text x="720.17" y="453.5" font-size="12.7" fill="#008b8b" font-weight="bold" textLength="156.29" lengthAdjust="spacingAndGlyphs">y = 0.03934x + 11.45</text>
<text x="894.96" y="340.3" font-size="16.3" fill="#ff0000" font-weight="bold" textLength="51.37" lengthAdjust="spacingAndGlyphs">pH 11</text>
<text x="774.9" y="612.5" font-size="19.6" fill="#000" font-weight="bold" textLength="238.4" lengthAdjust="spacingAndGlyphs">Irradiation time (min)</text>
<text transform="translate(24.3,132.4) scale(1.49,1) rotate(-90)" x="-0.74" y="0" font-weight="bold" fill="#000" textLength="46.16" lengthAdjust="spacingAndGlyphs"><tspan font-size="17.6" dy="0">C</tspan><tspan font-size="15.8" dy="3">t</tspan><tspan font-size="17.6" dy="-3">/C</tspan><tspan font-size="15.5" dy="3">o</tspan></text>
<text transform="translate(24.9,456.2) scale(1.4,1) rotate(-90)" x="-0.78" y="0" font-weight="bold" fill="#000" textLength="49.16" lengthAdjust="spacingAndGlyphs"><tspan font-size="17.6" dy="0">C</tspan><tspan font-size="16" dy="3.4">t</tspan><tspan font-size="17.6" dy="-3.4">/C</tspan><tspan font-size="16.3" dy="3.4">o</tspan></text>
<text transform="translate(611.9,172.4) scale(1.51,1) rotate(-90)" x="-1.31" y="0" font-weight="bold" fill="#000" textLength="71.25" lengthAdjust="spacingAndGlyphs"><tspan font-size="16.8" dy="0">ln</tspan><tspan font-size="11.6" dy="2.3">(</tspan><tspan font-size="16.8" dy="-2.3">C</tspan><tspan font-size="11.6" dy="2.3">o</tspan><tspan font-size="16.8" dy="-2.3">/C</tspan><tspan font-size="16" dy="3.3">t</tspan><tspan font-size="11.6" dy="-1">)</tspan></text>
<text transform="translate(618.3,468.9) scale(1.41,1) rotate(-90)" x="-1.33" y="0" font-weight="bold" fill="#000" textLength="77.78" lengthAdjust="spacingAndGlyphs"><tspan font-size="16.5" dy="0">ln(C</tspan><tspan font-size="14" dy="2.2">o</tspan><tspan font-size="16.5" dy="-2.2">/C</tspan><tspan font-size="14" dy="2.2">t</tspan><tspan font-size="16.5" dy="-2.2">)</tspan></text>
<text x="51.46" y="292.28" font-size="25.47" fill="#05050f" font-weight="bold" textLength="32.77" lengthAdjust="spacingAndGlyphs" style="font-family:'Liberation Serif', serif">(a)</text>
<text x="659.69" y="293.99" font-size="24.92" fill="#05050f" font-weight="bold" textLength="33.73" lengthAdjust="spacingAndGlyphs" style="font-family:'Liberation Serif', serif">(b)</text>
<text x="51.64" y="611.96" font-size="26.46" fill="#05050f" font-weight="bold" textLength="31.82" lengthAdjust="spacingAndGlyphs" style="font-family:'Liberation Serif', serif">(c)</text>
<text x="657.66" y="614.16" font-size="24.59" fill="#05050f" font-weight="bold" textLength="34.37" lengthAdjust="spacingAndGlyphs" style="font-family:'Liberation Serif', serif">(d)</text>
</svg>
</body></html>
